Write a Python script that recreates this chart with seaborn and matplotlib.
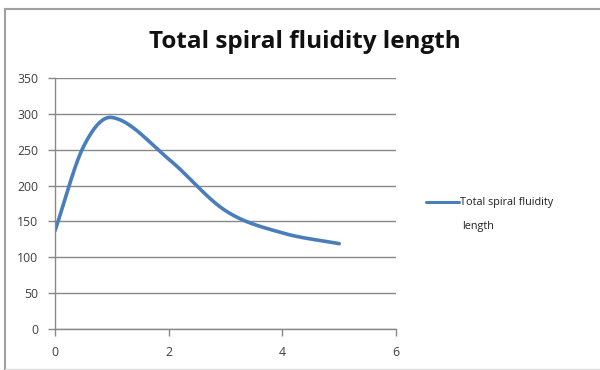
import numpy as np
import pandas as pd
import matplotlib
matplotlib.use("Agg")
import matplotlib.pyplot as plt
import seaborn as sns
from matplotlib.lines import Line2D

x_vals = [0, 0.5, 1, 2, 3, 4, 5]
y_vals = [137, 254, 295, 237, 165, 134, 119]
series_name = "Total spiral fluidity length"
title = "Total spiral fluidity length"
x_ticks = [0, 2, 4, 6]
y_ticks = [0, 50, 100, 150, 200, 250, 300, 350]


def smooth_curve(xs, ys, n=40):
    # cubic Hermite smoothing with finite-difference slopes (Excel-like look)
    xs = np.asarray(xs, float)
    ys = np.asarray(ys, float)
    k = len(xs)
    m = np.zeros(k)
    for i in range(k):
        a = max(i - 1, 0)
        b = min(i + 1, k - 1)
        m[i] = (ys[b] - ys[a]) / (xs[b] - xs[a])
    px, py = [], []
    for i in range(k - 1):
        h = xs[i + 1] - xs[i]
        s = np.linspace(0, 1, n, endpoint=(i == k - 2))
        h00 = 2 * s ** 3 - 3 * s ** 2 + 1
        h10 = s ** 3 - 2 * s ** 2 + s
        h01 = -2 * s ** 3 + 3 * s ** 2
        h11 = s ** 3 - s ** 2
        px.extend(xs[i] + s * h)
        py.extend(h00 * ys[i] + h10 * h * m[i] + h01 * ys[i + 1] + h11 * h * m[i + 1])
    return np.array(px), np.array(py)


sns.set_theme(style="white")
plt.rcParams["font.family"] = ["Open Sans", "DejaVu Sans"]

fig = plt.figure(figsize=(6.0, 3.7), dpi=100)
ax = fig.add_axes([55 / 600, 1 - 329 / 370, (396 - 55) / 600, (329 - 78) / 370])

sx, sy = smooth_curve(x_vals, y_vals)
df = pd.DataFrame({"x": sx, "y": sy})
line_color = "#4A7EBB"
sns.lineplot(data=df, x="x", y="y", sort=False, ax=ax, color=line_color, linewidth=2.6, legend=False)

ax.set_xlim(0, 6)
ax.set_ylim(0, 350)
ax.set_xticks(x_ticks)
ax.set_yticks(y_ticks)
ax.set_xlabel("")
ax.set_ylabel("")
ax.yaxis.grid(True, color="#888888", linewidth=1.0)
ax.xaxis.grid(False)
ax.set_axisbelow(True)
for side in ["top", "right"]:
    ax.spines[side].set_visible(False)
for side in ["left", "bottom"]:
    ax.spines[side].set_color("#888888")
    ax.spines[side].set_linewidth(1.0)
ax.tick_params(axis="both", which="both", direction="out", length=5, width=1,
               color="#888888", labelsize=8.8, labelcolor="#404040", pad=7,
               left=True, bottom=True)
ax.tick_params(axis="x", pad=7)

fig.text(305 / 600, 1 - 42 / 370, title, ha="center", va="center",
         fontsize=17.5, fontweight="bold", color="#111111")

handle = Line2D([0], [0], color=line_color, linewidth=2.2)
fig.legend([handle], ["Total spiral fluidity"], loc="center left",
           bbox_to_anchor=(422 / 600, 1 - 203 / 370), frameon=False,
           fontsize=7.8, handlelength=3.0, handletextpad=0.1, borderaxespad=0,
           labelcolor="#202020")
fig.text(462 / 600, 1 - 226 / 370, "length", ha="left", va="center",
         fontsize=7.8, color="#202020")

# outer chart border
fig.add_artist(Line2D([4.5 / 600, 4.5 / 600], [0, 1 - 8.5 / 370], transform=fig.transFigure,
                      color="#A0A0A0", linewidth=1.5))
fig.add_artist(Line2D([4.5 / 600, 1], [1 - 8.5 / 370, 1 - 8.5 / 370], transform=fig.transFigure,
                      color="#A0A0A0", linewidth=1.5))
fig.add_artist(Line2D([4.5 / 600, 1], [1.5 / 370, 1.5 / 370], transform=fig.transFigure,
                      color="#E0E0E0", linewidth=1.0))

fig.savefig("out.png", dpi=100, facecolor="white")
